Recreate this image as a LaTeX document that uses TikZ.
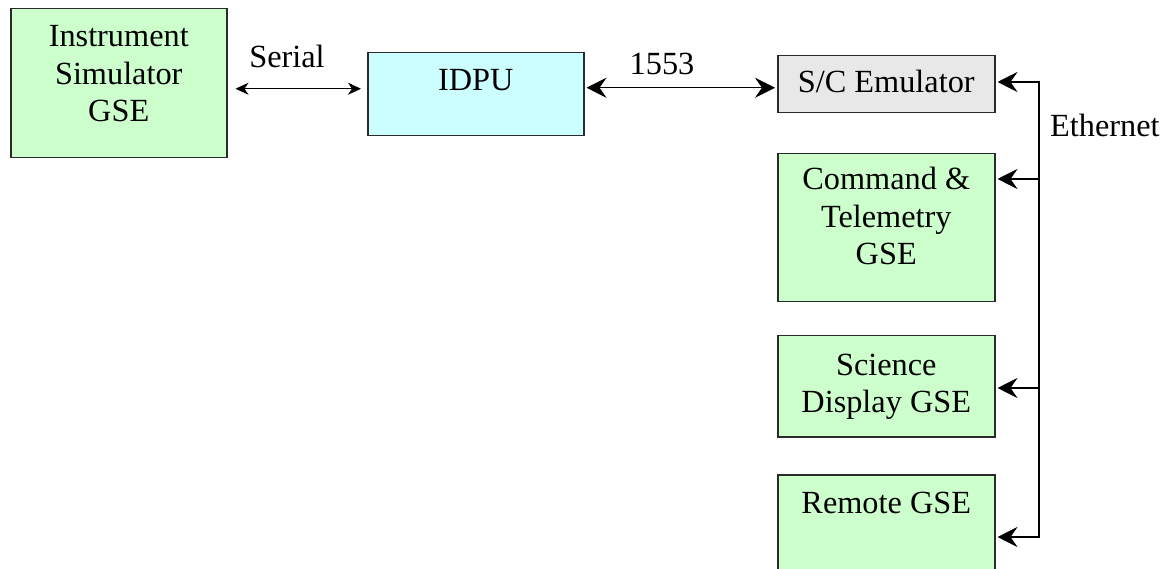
\documentclass[tikz,border=0pt]{standalone}
\usepackage{fontspec}
\setmainfont{Liberation Serif}
\usetikzlibrary{arrows.meta,calc}
\definecolor{boxgreen}{HTML}{CCFFCC}
\definecolor{boxcyan}{HTML}{CCFFFF}
\definecolor{boxgrey}{HTML}{E8E8E8}
\definecolor{edge}{HTML}{2A2A2A}
\begin{document}
\begin{tikzpicture}[x=1pt,y=-1pt,
  txt/.style={font=\fontsize{32.3}{37.5}\selectfont, inner sep=0pt},
  box/.style={txt, draw=edge, line width=1.5pt, anchor=north west, align=center},
  green/.style={box, fill=boxgreen},
  conn/.style={line width=1.1pt, draw=black, {Stealth[length=20pt,width=20pt,inset=7pt]}-{Stealth[length=20pt,width=20pt,inset=7pt]}},
  thin/.style={line width=0.9pt, draw=black, {Stealth[length=13pt,width=12pt,inset=4pt]}-{Stealth[length=13pt,width=12pt,inset=4pt]}},
  tip/.style={line width=1.1pt, draw=black, -{Stealth[length=20pt,width=20pt,inset=7pt]}}
]
\useasboundingbox (0,0) rectangle (1168,569);
\clip (0,0) rectangle (1168,569);

\node[green, minimum width=216pt, text height=113pt, text depth=36pt] (inst) at (10,8) {Instrument\\Simulator\\GSE};
\node[box, fill=boxcyan, minimum width=216pt, text height=38pt, text depth=45pt] (idpu) at (367,52) {IDPU};
\node[box, fill=boxgrey, minimum width=217pt, text height=37pt, text depth=20pt] (sc) at (777,55) {S/C Emulator};
\node[green, minimum width=217pt, text height=111pt, text depth=37pt] (cmd) at (777,153) {Command \&\\Telemetry\\GSE};
\node[green, minimum width=217pt, text height=77pt, text depth=24pt] (sci) at (777,335) {Science\\Display GSE};
\node[green, minimum width=217pt, text height=39pt, text depth=107pt] (remote) at (777,474) {Remote GSE};

% Serial link
\draw[thin, shorten <=8pt, shorten >=6pt] ([yshift=-5.5pt]inst.east) -- ([yshift=-5.5pt]inst.east -| idpu.west);
\node[txt, anchor=base] (serial) at (287,68) {Serial};

% 1553 link
\draw[conn, shorten <=2pt, shorten >=2pt] ([yshift=6.5pt]idpu.east) -- ([yshift=6.5pt]idpu.east -| sc.west);
\node[txt, anchor=base] (mil) at (662,75) {1553};

% Ethernet bus
\coordinate (e1) at (1039,82);
\coordinate (e2) at (1039,179);
\coordinate (e3) at (1039,388);
\coordinate (e4) at (1039,537);
\draw[conn, shorten <=2pt, shorten >=2pt] (e1 -| sc.east) -- (e1) -- (e4) -- (e4 -| remote.east);
\draw[tip, shorten >=2pt] (e2) -- (e2 -| cmd.east);
\draw[tip, shorten >=2pt] (e3) -- (e3 -| sci.east);
\node[txt, anchor=base west] (eth) at (1050,137) {Ethernet};
\end{tikzpicture}
\end{document}
